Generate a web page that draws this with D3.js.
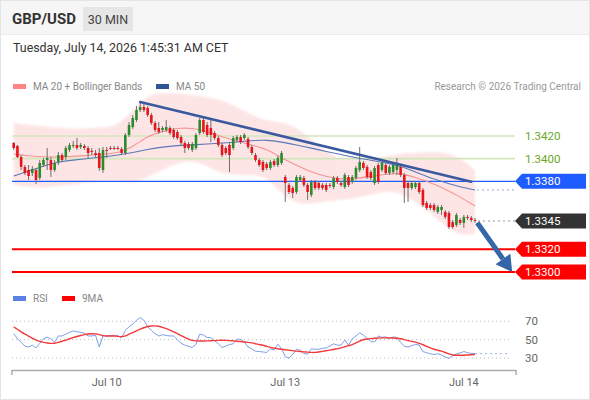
<!DOCTYPE html>
<html><head><meta charset="utf-8">
<script src="https://cdn.jsdelivr.net/npm/d3@7"></script>
<style>body{margin:0;background:#fff;} svg{font-family:Roboto,"Liberation Sans",Arial,sans-serif;}</style>
</head><body><svg id="c" width="590" height="400"></svg>
<script>
// ---- candle data (30 min) ----
const open = [
1.34138,1.34112,1.34015,1.33927,1.33900,1.33874,1.33900,1.33830,1.33944,1.33988,
1.33988,1.33900,1.33971,1.34032,1.34015,1.34077,1.34112,1.34121,1.34103,1.34112,
1.34094,1.34068,1.34050,1.34050,1.33900,1.34077,1.34094,1.34094,1.34094,1.34085,
1.34050,1.34209,1.34279,1.34341,1.34429,1.34456,1.34447,1.34385,1.34315,1.34271,
1.34253,1.34253,1.34271,1.34253,1.34235,1.34191,1.34138,1.34129,1.34077,1.34094,
1.34226,1.34341,1.34297,1.34271,1.34226,1.34182,1.34121,1.34094,1.34121,1.34094,
1.34165,1.34191,1.34182,1.34174,1.34103,1.34032,1.33988,1.33971,1.33953,1.33918,
1.33980,1.33944,1.33962,1.33838,1.33768,1.33741,1.33706,1.33812,1.33830,1.33768,
1.33680,1.33794,1.33785,1.33768,1.33768,1.33768,1.33750,1.33830,1.33785,1.33750,
1.33838,1.33794,1.33830,1.33900,1.33962,1.33927,1.33882,1.33785,1.33944,1.33900,
1.33944,1.33874,1.33882,1.33900,1.33927,1.33856,1.33785,1.33741,1.33750,1.33785,
1.33724,1.33609,1.33591,1.33591,1.33530,1.33547,1.33530,1.33521,1.33441,1.33415,
1.33459,1.33433,1.33486,1.33477,1.33459];
const high = [
1.34147,1.34121,1.34032,1.33944,1.33944,1.33935,1.33918,1.33988,1.34006,1.34094,
1.34015,1.33988,1.34059,1.34050,1.34112,1.34138,1.34156,1.34182,1.34138,1.34129,
1.34112,1.34094,1.34077,1.34094,1.34103,1.34103,1.34112,1.34112,1.34112,1.34103,
1.34226,1.34323,1.34385,1.34465,1.34509,1.34482,1.34465,1.34403,1.34332,1.34323,
1.34288,1.34341,1.34288,1.34271,1.34253,1.34209,1.34156,1.34147,1.34147,1.34226,
1.34359,1.34359,1.34323,1.34341,1.34244,1.34200,1.34138,1.34112,1.34138,1.34200,
1.34209,1.34209,1.34226,1.34191,1.34121,1.34050,1.34006,1.33988,1.33971,1.33988,
1.33997,1.34024,1.34068,1.33856,1.33785,1.33759,1.33856,1.33856,1.33847,1.33785,
1.33812,1.33812,1.33803,1.33785,1.33785,1.33785,1.33847,1.33847,1.33803,1.33874,
1.33856,1.33856,1.33935,1.34103,1.33980,1.33944,1.33900,1.33935,1.33962,1.33988,
1.33962,1.33944,1.33962,1.34006,1.33944,1.33874,1.33803,1.33803,1.33803,1.33803,
1.33741,1.33627,1.33609,1.33609,1.33591,1.33591,1.33547,1.33539,1.33459,1.33521,
1.33477,1.33503,1.33503,1.33494,1.33477];
const low = [
1.34077,1.34006,1.33900,1.33856,1.33812,1.33847,1.33777,1.33812,1.33927,1.33900,
1.33838,1.33882,1.33944,1.33971,1.33988,1.34059,1.34094,1.34077,1.34085,1.34077,
1.34006,1.34032,1.34015,1.33891,1.33874,1.34006,1.34077,1.34077,1.34077,1.34032,
1.34032,1.34191,1.34262,1.34323,1.34412,1.34412,1.34368,1.34297,1.34235,1.34218,
1.34235,1.34235,1.34209,1.34174,1.34165,1.34121,1.34050,1.34077,1.34059,1.34077,
1.34209,1.34218,1.34191,1.34147,1.34165,1.34103,1.34015,1.34032,1.33882,1.34077,
1.34147,1.34129,1.34165,1.34085,1.34032,1.33971,1.33927,1.33882,1.33900,1.33900,
1.33927,1.33927,1.33944,1.33618,1.33688,1.33653,1.33688,1.33794,1.33750,1.33636,
1.33662,1.33724,1.33724,1.33724,1.33706,1.33741,1.33733,1.33777,1.33750,1.33733,
1.33750,1.33777,1.33812,1.33882,1.33900,1.33821,1.33812,1.33768,1.33777,1.33882,
1.33856,1.33856,1.33865,1.33856,1.33838,1.33609,1.33618,1.33724,1.33733,1.33688,
1.33574,1.33547,1.33547,1.33530,1.33512,1.33503,1.33468,1.33380,1.33380,1.33397,
1.33415,1.33389,1.33459,1.33441,1.33433];
const close = [
1.34094,1.34015,1.33927,1.33874,1.33847,1.33909,1.33812,1.33962,1.33988,1.34006,
1.33900,1.33962,1.34032,1.33988,1.34094,1.34121,1.34121,1.34094,1.34121,1.34094,
1.34050,1.34059,1.34032,1.33918,1.34077,1.34068,1.34090,1.34092,1.34090,1.34050,
1.34209,1.34297,1.34359,1.34429,1.34456,1.34429,1.34385,1.34315,1.34253,1.34235,
1.34271,1.34279,1.34226,1.34191,1.34182,1.34138,1.34094,1.34094,1.34129,1.34209,
1.34341,1.34235,1.34209,1.34209,1.34182,1.34121,1.34032,1.34050,1.34032,1.34182,
1.34191,1.34147,1.34209,1.34103,1.34050,1.33988,1.33944,1.33900,1.33918,1.33971,
1.33944,1.34006,1.34050,1.33785,1.33706,1.33697,1.33838,1.33838,1.33768,1.33706,
1.33794,1.33741,1.33741,1.33741,1.33724,1.33764,1.33830,1.33794,1.33768,1.33856,
1.33768,1.33838,1.33918,1.33971,1.33918,1.33838,1.33830,1.33918,1.33794,1.33962,
1.33874,1.33927,1.33944,1.33944,1.33856,1.33741,1.33741,1.33785,1.33785,1.33706,
1.33591,1.33565,1.33565,1.33547,1.33574,1.33574,1.33486,1.33397,1.33397,1.33503,
1.33433,1.33486,1.33477,1.33459,1.33450];

// ---- indicator samples (read every 4th candle) ----
const maIdx = [0,4,8,12,16,20,24,28,32,36,40,44,48,52,56,60,64,68,72,76,80,84,88,92,96,100,104,108,112,116,120,124];
const ma20 = [1.34041,1.34024,1.34015,1.34015,1.34019,1.34028,1.34041,1.34050,1.34103,1.34200,1.34240,1.34271,1.34271,1.34240,1.34191,1.34156,
1.34121,1.34085,1.34006,1.33940,1.33882,1.33843,1.33816,1.33825,1.33843,1.33865,1.33874,1.33834,1.33790,1.33733,1.33662,1.33583];
const bbUpper = [1.34315,1.34297,1.34288,1.34271,1.34266,1.34266,1.34279,1.34288,1.34429,1.34562,1.34579,1.34579,1.34562,1.34544,1.34518,1.34456,
1.34385,1.34332,1.34323,1.34279,1.34165,1.34063,1.33993,1.34002,1.34002,1.34015,1.34050,1.34050,1.34059,1.34059,1.34006,1.33900];
const bbLower = [1.33768,1.33750,1.33741,1.33759,1.33772,1.33790,1.33803,1.33812,1.33777,1.33838,1.33900,1.33962,1.33980,1.33935,1.33865,1.33856,
1.33856,1.33838,1.33688,1.33600,1.33600,1.33622,1.33640,1.33649,1.33684,1.33715,1.33697,1.33618,1.33521,1.33406,1.33318,1.33336];
const ma50 = [1.33847,1.33891,1.33935,1.33971,1.33988,1.34002,1.34015,1.34032,1.34054,1.34081,1.34103,1.34116,1.34121,1.34129,1.34138,1.34147,
1.34160,1.34165,1.34147,1.34121,1.34094,1.34063,1.34037,1.34006,1.33988,1.33962,1.33935,1.33882,1.33830,1.33790,1.33750,1.33724];

// ---- RSI panel ----
const rsi = [56.5,51,47,43,42,44,41,46,51,52.5,
51,47,54,54,56,58,59.5,58.6,58,57,
54,54,54.8,42,54,54,54.5,54.8,54.3,52,
60,64,67,71,74,71,64.5,60,56.5,54,
55.4,54.5,54,54,50,46,44,42.7,41.5,45,
56,55,52.5,52,49,45.5,41.5,43,44.6,45.5,
50.5,50.5,47.5,42,40,37.4,37,36.6,36,40,
39,45,40,31.5,30,34,39.5,38.5,35,34,
40,39.5,39.5,40.5,41,43,45.5,44,44,49.5,
44,51,54,57.5,55,51.5,48,47.5,54,52.5,
53,51,53,52.5,47,42.8,42,43.5,44.8,44,
37,35.8,34.6,33.8,34.7,33.2,31,29.5,32.5,34.5,
35.5,37,35.8,35,34.8];
const rsiMA = [63.8,61.5,58.4,56,54,51.5,49.5,48,47,46.3,
45.8,46,47,48.3,49.5,51,52.3,53.5,54.6,55.5,
56.2,56.5,56.4,55.5,54.3,54,54,54,53.6,53,
54,56,57.5,59.5,61.5,63,64.5,65,65,64.8,
63.5,62,60.5,58.5,56.5,54.5,52.5,50.5,49,48.6,
48.6,48.6,48.6,48.7,49,49.2,49.3,49.2,49,48.6,
48.3,48,47.5,47,46.5,45.6,44.6,44,42.5,41.5,
40.8,40,39.5,39,38.5,38,37.4,37,36.7,36.4,
36.1,36,36.5,37.3,38,38.5,39.2,40.2,41,42.3,
43.5,44.5,46.5,48.5,50,50.7,51.2,51.5,51.7,51.9,
52,52,51.8,51.5,51,50,49,48,47.5,46,
44.5,42.8,41,39.5,38.5,37.5,36,34.5,33,33,
33,33,33.3,33.5,33.7];
const rsiTicks = [70,50,30];

// ---- levels, trend, axis ----
const levelValues = [1.3420,1.3400,1.3380,1.3345,1.3320,1.3300];
const levelLabels = ["1.3420","1.3400","1.3380","1.3345","1.3320","1.3300"];
const levelKinds  = ["res","res","pivot","last","sup","sup"];
const trendIdx = [34,123], trendPrice = [1.3450,1.33797];
const arrowIdx = [124.6,134], arrowPrice = [1.33435,1.3300];
const xTickIdx = [25,73,121], xTickLabels = ["Jul 10","Jul 13","Jul 14"];

const svg = d3.select("#c");
const W=590,H=400;
const defs = svg.append("defs");
defs.append("filter").attr("id","soft").attr("x","-5%").attr("y","-10%").attr("width","110%").attr("height","120%")
  .append("feGaussianBlur").attr("stdDeviation",1.2);

svg.append("rect").attr("x",0.5).attr("y",0.5).attr("width",W-1).attr("height",H-1).attr("fill","#fff").attr("stroke","#e4e4e4");
svg.append("rect").attr("x",1).attr("y",1).attr("width",W-2).attr("height",33).attr("fill","#f6f6f6");
svg.append("line").attr("x1",1).attr("x2",W-1).attr("y1",34.5).attr("y2",34.5).attr("stroke","#ececec");

svg.append("text").attr("x",12).attr("y",24).attr("font-size",15).attr("font-weight","bold").attr("fill","#333").text("GBP/USD");
svg.append("rect").attr("x",83).attr("y",7).attr("width",50).attr("height",24).attr("fill","#e6e6e6");
svg.append("text").attr("x",108).attr("y",24).attr("text-anchor","middle").attr("font-size",12.5).attr("fill","#444").text("30 MIN");
svg.append("text").attr("x",13).attr("y",52).attr("font-size",12.4).attr("fill","#333").text("Tuesday, July 14, 2026 1:45:31 AM CET");

// legend
svg.append("rect").attr("x",13).attr("y",84).attr("width",13).attr("height",5).attr("fill","#ff8585");
svg.append("text").attr("x",33).attr("y",90).attr("font-size",10).attr("fill","#888").text("MA 20 + Bollinger Bands");
svg.append("rect").attr("x",156).attr("y",84).attr("width",13).attr("height",5).attr("fill","#2f5597");
svg.append("text").attr("x",176).attr("y",90).attr("font-size",10).attr("fill","#888").text("MA 50");
svg.append("text").attr("x",581).attr("y",90).attr("text-anchor","end").attr("font-size",10).attr("fill","#999").text("Research © 2026 Trading Central");

const x = d3.scaleLinear().domain([0,124]).range([13.7,475]);
const y = d3.scaleLinear().domain([1.3300,1.3420]).range([272,136]);
const r = d3.scaleLinear().domain([30,70]).range([358,321.3]);
const xL=12, xR=515;

// bollinger band
const bandIdx = d3.range(maIdx.length);
svg.append("path").datum(bandIdx)
  .attr("d", d3.area().x(k=>x(maIdx[k])).y0(k=>y(bbLower[k])).y1(k=>y(bbUpper[k])).curve(d3.curveBasis))
  .attr("fill","#fde5e5").attr("filter","url(#soft)");

// level lines
levelValues.forEach((v,k)=>{
  const kind = levelKinds[k];
  if(kind==="res"){
    svg.append("line").attr("x1",xL).attr("x2",xR).attr("y1",y(v)).attr("y2",y(v)).attr("stroke","#d2e6bb").attr("stroke-width",1.6);
  } else if(kind==="pivot"){
    svg.append("line").attr("x1",xL).attr("x2",xR).attr("y1",y(v)).attr("y2",y(v)).attr("stroke","#1f5cff").attr("stroke-width",1.3);
  } else if(kind==="sup"){
    svg.append("line").attr("x1",xL).attr("x2",xR).attr("y1",y(v)).attr("y2",y(v)).attr("stroke","#f00").attr("stroke-width",2);
  } else {
    svg.append("line").attr("x1",x(124)+3).attr("x2",xR).attr("y1",y(v)).attr("y2",y(v)).attr("stroke","#999").attr("stroke-width",1).attr("stroke-dasharray","2,3");
  }
});
// MA50 dotted extension
svg.append("line").attr("x1",x(124)+2).attr("x2",xR).attr("y1",y(ma50[ma50.length-1])).attr("y2",y(ma50[ma50.length-1]))
  .attr("stroke","#9aaed0").attr("stroke-width",1).attr("stroke-dasharray","2,3");

// MA lines
svg.append("path").datum(bandIdx).attr("d", d3.line().x(k=>x(maIdx[k])).y(k=>y(ma20[k])).curve(d3.curveBasis))
  .attr("fill","none").attr("stroke","#f79494").attr("stroke-width",1.1);
svg.append("path").datum(bandIdx).attr("d", d3.line().x(k=>x(maIdx[k])).y(k=>y(ma50[k])).curve(d3.curveBasis))
  .attr("fill","none").attr("stroke","#5a78b8").attr("stroke-width",1.1);

// candles
const idx = d3.range(close.length);
const g = svg.append("g");
g.selectAll("line.w").data(idx).join("line").attr("class","w")
  .attr("x1",i=>x(i)).attr("x2",i=>x(i)).attr("y1",i=>y(high[i])).attr("y2",i=>y(low[i]))
  .attr("stroke","#6e6e6e").attr("stroke-width",1);
g.selectAll("rect.b").data(idx).join("rect").attr("class","b")
  .attr("x",i=>x(i)-1.3).attr("width",2.6)
  .attr("y",i=>y(Math.max(open[i],close[i])))
  .attr("height",i=>Math.max(1,Math.abs(y(open[i])-y(close[i]))))
  .attr("fill",i=>close[i]>=open[i]?"#2b8a2b":"#e8141b");

// trend line
svg.append("line").attr("x1",x(trendIdx[0])).attr("y1",y(trendPrice[0])).attr("x2",x(trendIdx[1])).attr("y2",y(trendPrice[1]))
  .attr("stroke","#3a5aa0").attr("stroke-width",2.6).attr("stroke-linecap","round");

// arrow
{
  const x1=x(arrowIdx[0]), y1=y(arrowPrice[0]), x2=x(arrowIdx[1]), y2=y(arrowPrice[1]);
  const ang=Math.atan2(y2-y1,x2-x1), hl=16, hw=9;
  const bx=x2-hl*Math.cos(ang), by=y2-hl*Math.sin(ang);
  svg.append("line").attr("x1",x1).attr("y1",y1).attr("x2",bx).attr("y2",by).attr("stroke","#3566a8").attr("stroke-width",5);
  const px=-Math.sin(ang), py=Math.cos(ang);
  svg.append("path").attr("d",`M${x2},${y2}L${bx+px*hw},${by+py*hw}L${bx-px*hw},${by-py*hw}Z`).attr("fill","#3566a8");
}

// level labels
levelValues.forEach((v,k)=>{
  const kind=levelKinds[k], yy=y(v);
  if(kind==="res"){
    svg.append("text").attr("x",525).attr("y",yy+4).attr("font-size",11.5).attr("fill","#6aa626").text(levelLabels[k]);
  } else {
    const col = kind==="pivot"?"#1f5cff":kind==="last"?"#333333":"#ff0000";
    svg.append("path").attr("d",`M515,${yy}L522,${yy-7.5}L586,${yy-7.5}L586,${yy+7.5}L522,${yy+7.5}Z`).attr("fill",col);
    svg.append("text").attr("x",525).attr("y",yy+4).attr("font-size",11.5).attr("fill","#fff").text(levelLabels[k]);
  }
});

// RSI legend
svg.append("rect").attr("x",13).attr("y",296).attr("width",13).attr("height",5).attr("fill","#5b80e6");
svg.append("text").attr("x",33).attr("y",302).attr("font-size",10).attr("fill","#888").text("RSI");
svg.append("rect").attr("x",62).attr("y",296).attr("width",13).attr("height",5).attr("fill","#f00");
svg.append("text").attr("x",82).attr("y",302).attr("font-size",10).attr("fill","#888").text("9MA");

rsiTicks.forEach(t=>{
  svg.append("line").attr("x1",xL).attr("x2",510).attr("y1",r(t)).attr("y2",r(t)).attr("stroke","#bbb").attr("stroke-width",1).attr("stroke-dasharray","1,3");
  svg.append("text").attr("x",525).attr("y",r(t)+4).attr("font-size",11.5).attr("fill","#666").text(t);
});
svg.append("path").datum(idx).attr("d",d3.line().x(i=>x(i)).y(i=>r(rsi[i])))
  .attr("fill","none").attr("stroke","#7f9ee8").attr("stroke-width",1);
svg.append("line").attr("x1",x(124)).attr("x2",510).attr("y1",r(rsi[124])).attr("y2",r(rsi[124]))
  .attr("stroke","#9fb5ee").attr("stroke-width",1).attr("stroke-dasharray","2,3");
svg.append("path").datum(idx).attr("d",d3.line().x(i=>x(i)).y(i=>r(rsiMA[i])).curve(d3.curveBasis))
  .attr("fill","none").attr("stroke","#f23a3a").attr("stroke-width",1.4);

// x axis
const ax = svg.append("g");
ax.append("path").attr("d",`M${xL},375V370.5H516V375`).attr("fill","none").attr("stroke","#aaa").attr("stroke-width",1.5);
xTickIdx.forEach((t,k)=>{
  ax.append("text").attr("x",x(t)).attr("y",386).attr("text-anchor","middle").attr("font-size",11).attr("fill","#666").text(xTickLabels[k]);
});
</script></body></html>
